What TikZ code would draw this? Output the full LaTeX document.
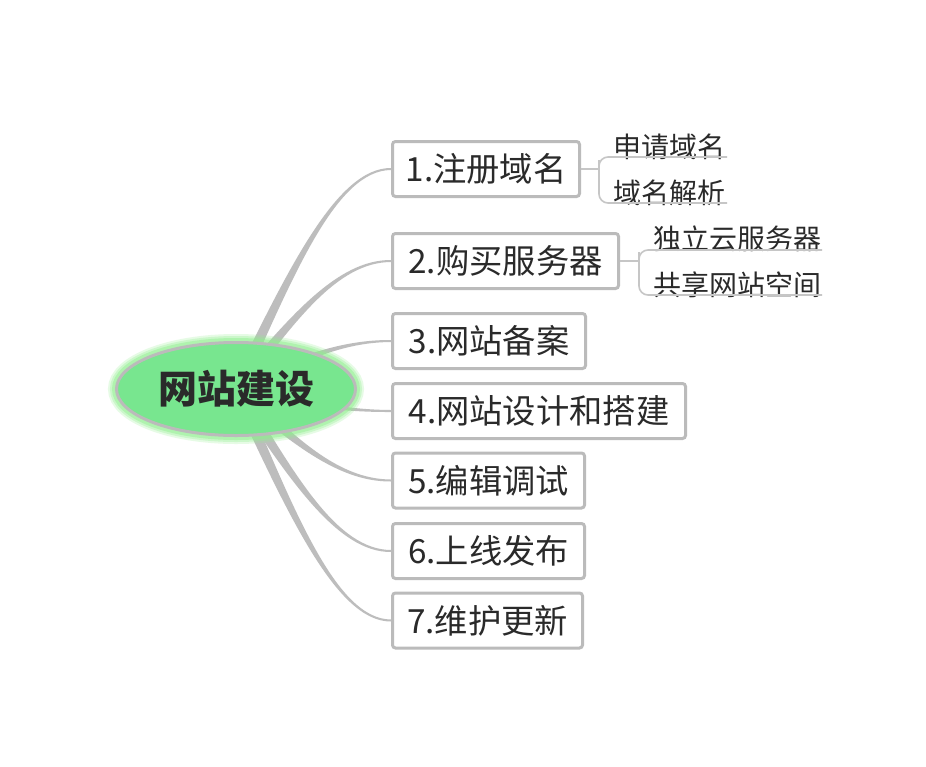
\documentclass[tikz,border=0pt]{standalone}
\usepackage{fontspec}
\setmainfont{Noto Sans CJK SC}
\usetikzlibrary{calc,shapes.geometric,backgrounds}
\definecolor{branchgray}{HTML}{BDBDBD}
\definecolor{boxgray}{HTML}{BBBBBB}
\definecolor{subgray}{HTML}{C6C6C6}
\definecolor{rootgreen}{HTML}{78E68F}
\definecolor{glowgreen}{HTML}{8EF08C}
\definecolor{txt}{HTML}{2A2A2A}
\tikzset{
  topicbox/.style={draw=boxgray, line width=3pt, rounded corners=3pt, fill=white,
    minimum height=55pt, inner sep=0pt, text=txt, font=\fontsize{33.3pt}{36pt}\selectfont},
  subtext/.style={anchor=west, inner sep=0pt, text=txt, font=\fontsize{28pt}{30pt}\selectfont},
  subline/.style={draw=subgray, line width=1.6pt, rounded corners=9pt},
  rootnode/.style={ellipse, draw=boxgray, line width=3pt, fill=rootgreen, inner sep=0pt,
    minimum width=239pt, minimum height=93pt, text=txt, font=\fontsize{39pt}{42pt}\selectfont\bfseries},
  branchfill/.style={fill=branchgray}
}
\newcommand\taperbranch[2]{%
  \path[branchfill] let \p1=(#1), \p2=(#2),
    \p3=({\x1+0.36*(\x2-\x1)},{\y1+0.54*(\y2-\y1)}),
    \p4=({\x2-0.35*(\x2-\x1)},\y2),
    \n1={veclen(\x3-\x1,\y3-\y1)},
    \p5=({-(\y3-\y1)/\n1},{(\x3-\x1)/\n1})
  in ({\x1+6*\x5},{\y1+6*\y5}) .. controls ({\x3+3.5*\x5},{\y3+3.5*\y5}) and (\x4,{\y4+1.3pt}) .. (\x2,{\y2+1pt})
     -- (\x2,{\y2-1pt}) .. controls (\x4,{\y4-1.3pt}) and ({\x3-3.5*\x5},{\y3-3.5*\y5}) .. ({\x1-6*\x5},{\y1-6*\y5}) -- cycle;
}
\begin{document}
\begin{tikzpicture}[x=1pt,y=-1pt]
\useasboundingbox (0,0) rectangle (926,766);

% glow around the central topic
\foreach \lw/\op in {17/0.22,13/0.3,9/0.45}
  \draw[glowgreen, line width=\lw pt, opacity=\op] (236,389) ellipse [x radius=119.5, y radius=46.5];

\node[rootnode] (root) at (236,389) {网站建设};

% main topics
\node[topicbox, minimum width=187pt] (b1) at (486,169) {1.注册域名};
\node[topicbox, minimum width=226pt] (b2) at (505.5,261) {2.购买服务器};
\node[topicbox, minimum width=193pt] (b3) at (489,341) {3.网站备案};
\node[topicbox, minimum width=293pt] (b4) at (539,411) {4.网站设计和搭建};
\node[topicbox, minimum width=192pt] (b5) at (488.5,480.5) {5.编辑调试};
\node[topicbox, minimum width=192pt] (b6) at (488.5,551) {6.上线发布};
\node[topicbox, minimum width=190pt] (b7) at (487.5,620.5) {7.维护更新};

% branches (behind)
\begin{scope}[on background layer]
  \fill[white] (0,0) rectangle (926,766);
  \foreach \b in {b1,b2,b3,b4,b5,b6,b7} {\taperbranch{root.center}{\b.west}}
\end{scope}

% sub topics
\node[subtext] (s1) at (613,146.5) {申请域名};
\node[subtext] (s2) at (613,192.5) {域名解析};
\node[subtext] (s3) at (653,239) {独立云服务器};
\node[subtext] (s4) at (653,284.5) {共享网站空间};

\coordinate (k1) at (599,169);
\coordinate (u1) at (727,157);
\coordinate (u2) at (727,203);
\coordinate (k2) at (639,261);
\coordinate (u3) at (822,250);
\coordinate (u4) at (822,295);

\draw[subline] (b1.east) -- (k1);
\draw[subline] (u1) -| (k1) |- (u2);
\draw[subline] (b2.east) -- (k2);
\draw[subline] (u3) -| (k2) |- (u4);
\end{tikzpicture}
\end{document}
